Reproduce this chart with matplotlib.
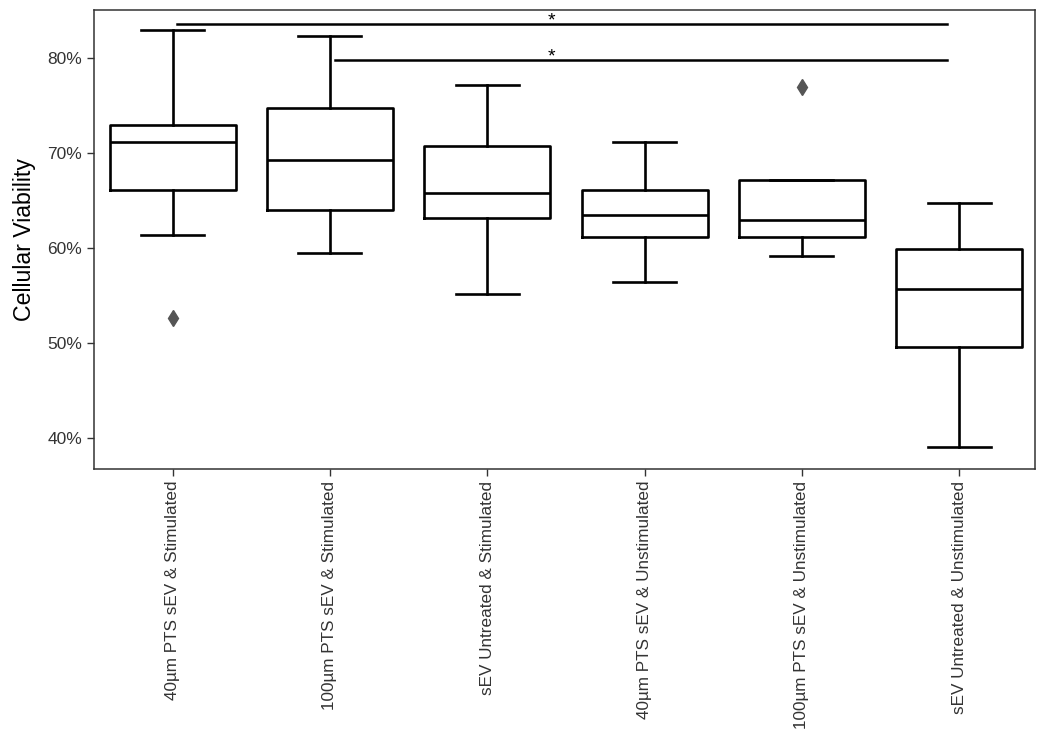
import matplotlib.pyplot as plt
from matplotlib.ticker import PercentFormatter

plt.rcParams['font.family'] = ['Liberation Sans', 'DejaVu Sans']

groups = ["40µm PTS sEV & Stimulated", "100µm PTS sEV & Stimulated",
          "sEV Untreated & Stimulated", "40µm PTS sEV & Unstimulated",
          "100µm PTS sEV & Unstimulated", "sEV Untreated & Unstimulated"]
whisker_low = [61.4, 59.5, 55.2, 56.4, 59.2, 39.0]
q1 = [66.1, 64.0, 63.1, 61.1, 61.2, 49.6]
median = [71.2, 69.3, 65.8, 63.5, 62.9, 55.7]
q3 = [72.9, 74.7, 70.7, 66.1, 67.2, 59.9]
whisker_high = [82.9, 82.3, 77.1, 71.1, 67.2, 64.7]
outliers = [[52.6], [], [], [], [76.9], []]

# significance brackets: (from group, to group, height)
sig_pairs = [(0, 5, 83.6), (1, 5, 79.8)]
sig_star_x = 2.41


def plot_boxes():
    fig = plt.figure(figsize=(10.5, 7.35), dpi=100)
    ax = fig.add_axes([0.0895, 0.362, 0.896, 0.6245])

    stats = []
    for i in range(len(groups)):
        stats.append({'whislo': whisker_low[i], 'q1': q1[i], 'med': median[i],
                      'q3': q3[i], 'whishi': whisker_high[i],
                      'fliers': outliers[i], 'label': groups[i]})

    line = dict(color='black', linewidth=1.9)
    ax.bxp(stats, positions=range(len(groups)), widths=0.8,
           boxprops=line, medianprops=line, whiskerprops=line, capprops=line,
           capwidths=0.4,
           flierprops=dict(marker='d', markerfacecolor='#555555',
                           markeredgecolor='#555555', markersize=8))

    for a, b, h in sig_pairs:
        ax.plot([a + 0.03, b - 0.08], [h, h], color='black', linewidth=1.8)
        ax.text(sig_star_x, h - 0.2, '*', ha='center', va='baseline', fontsize=14)

    ax.set_xlim(-0.5, 5.48)
    ax.set_ylim(36.74, 85.05)
    ax.set_yticks([40, 50, 60, 70, 80])
    ax.yaxis.set_major_formatter(PercentFormatter(decimals=0))
    ax.set_xticks(range(len(groups)))
    ax.set_xticklabels(groups, rotation=90, fontsize=12.3, color='#333333')
    ax.tick_params(axis='y', labelsize=12.5, labelcolor='#333333')
    ax.tick_params(colors='#333333', length=5, width=1)
    ax.set_ylabel("Cellular Viability", fontsize=16.7, labelpad=8)
    for s in ax.spines.values():
        s.set_color('#333333')
        s.set_linewidth(1.1)

    fig.savefig('out.png', dpi=100)


if __name__ == "__main__":
    plot_boxes()
